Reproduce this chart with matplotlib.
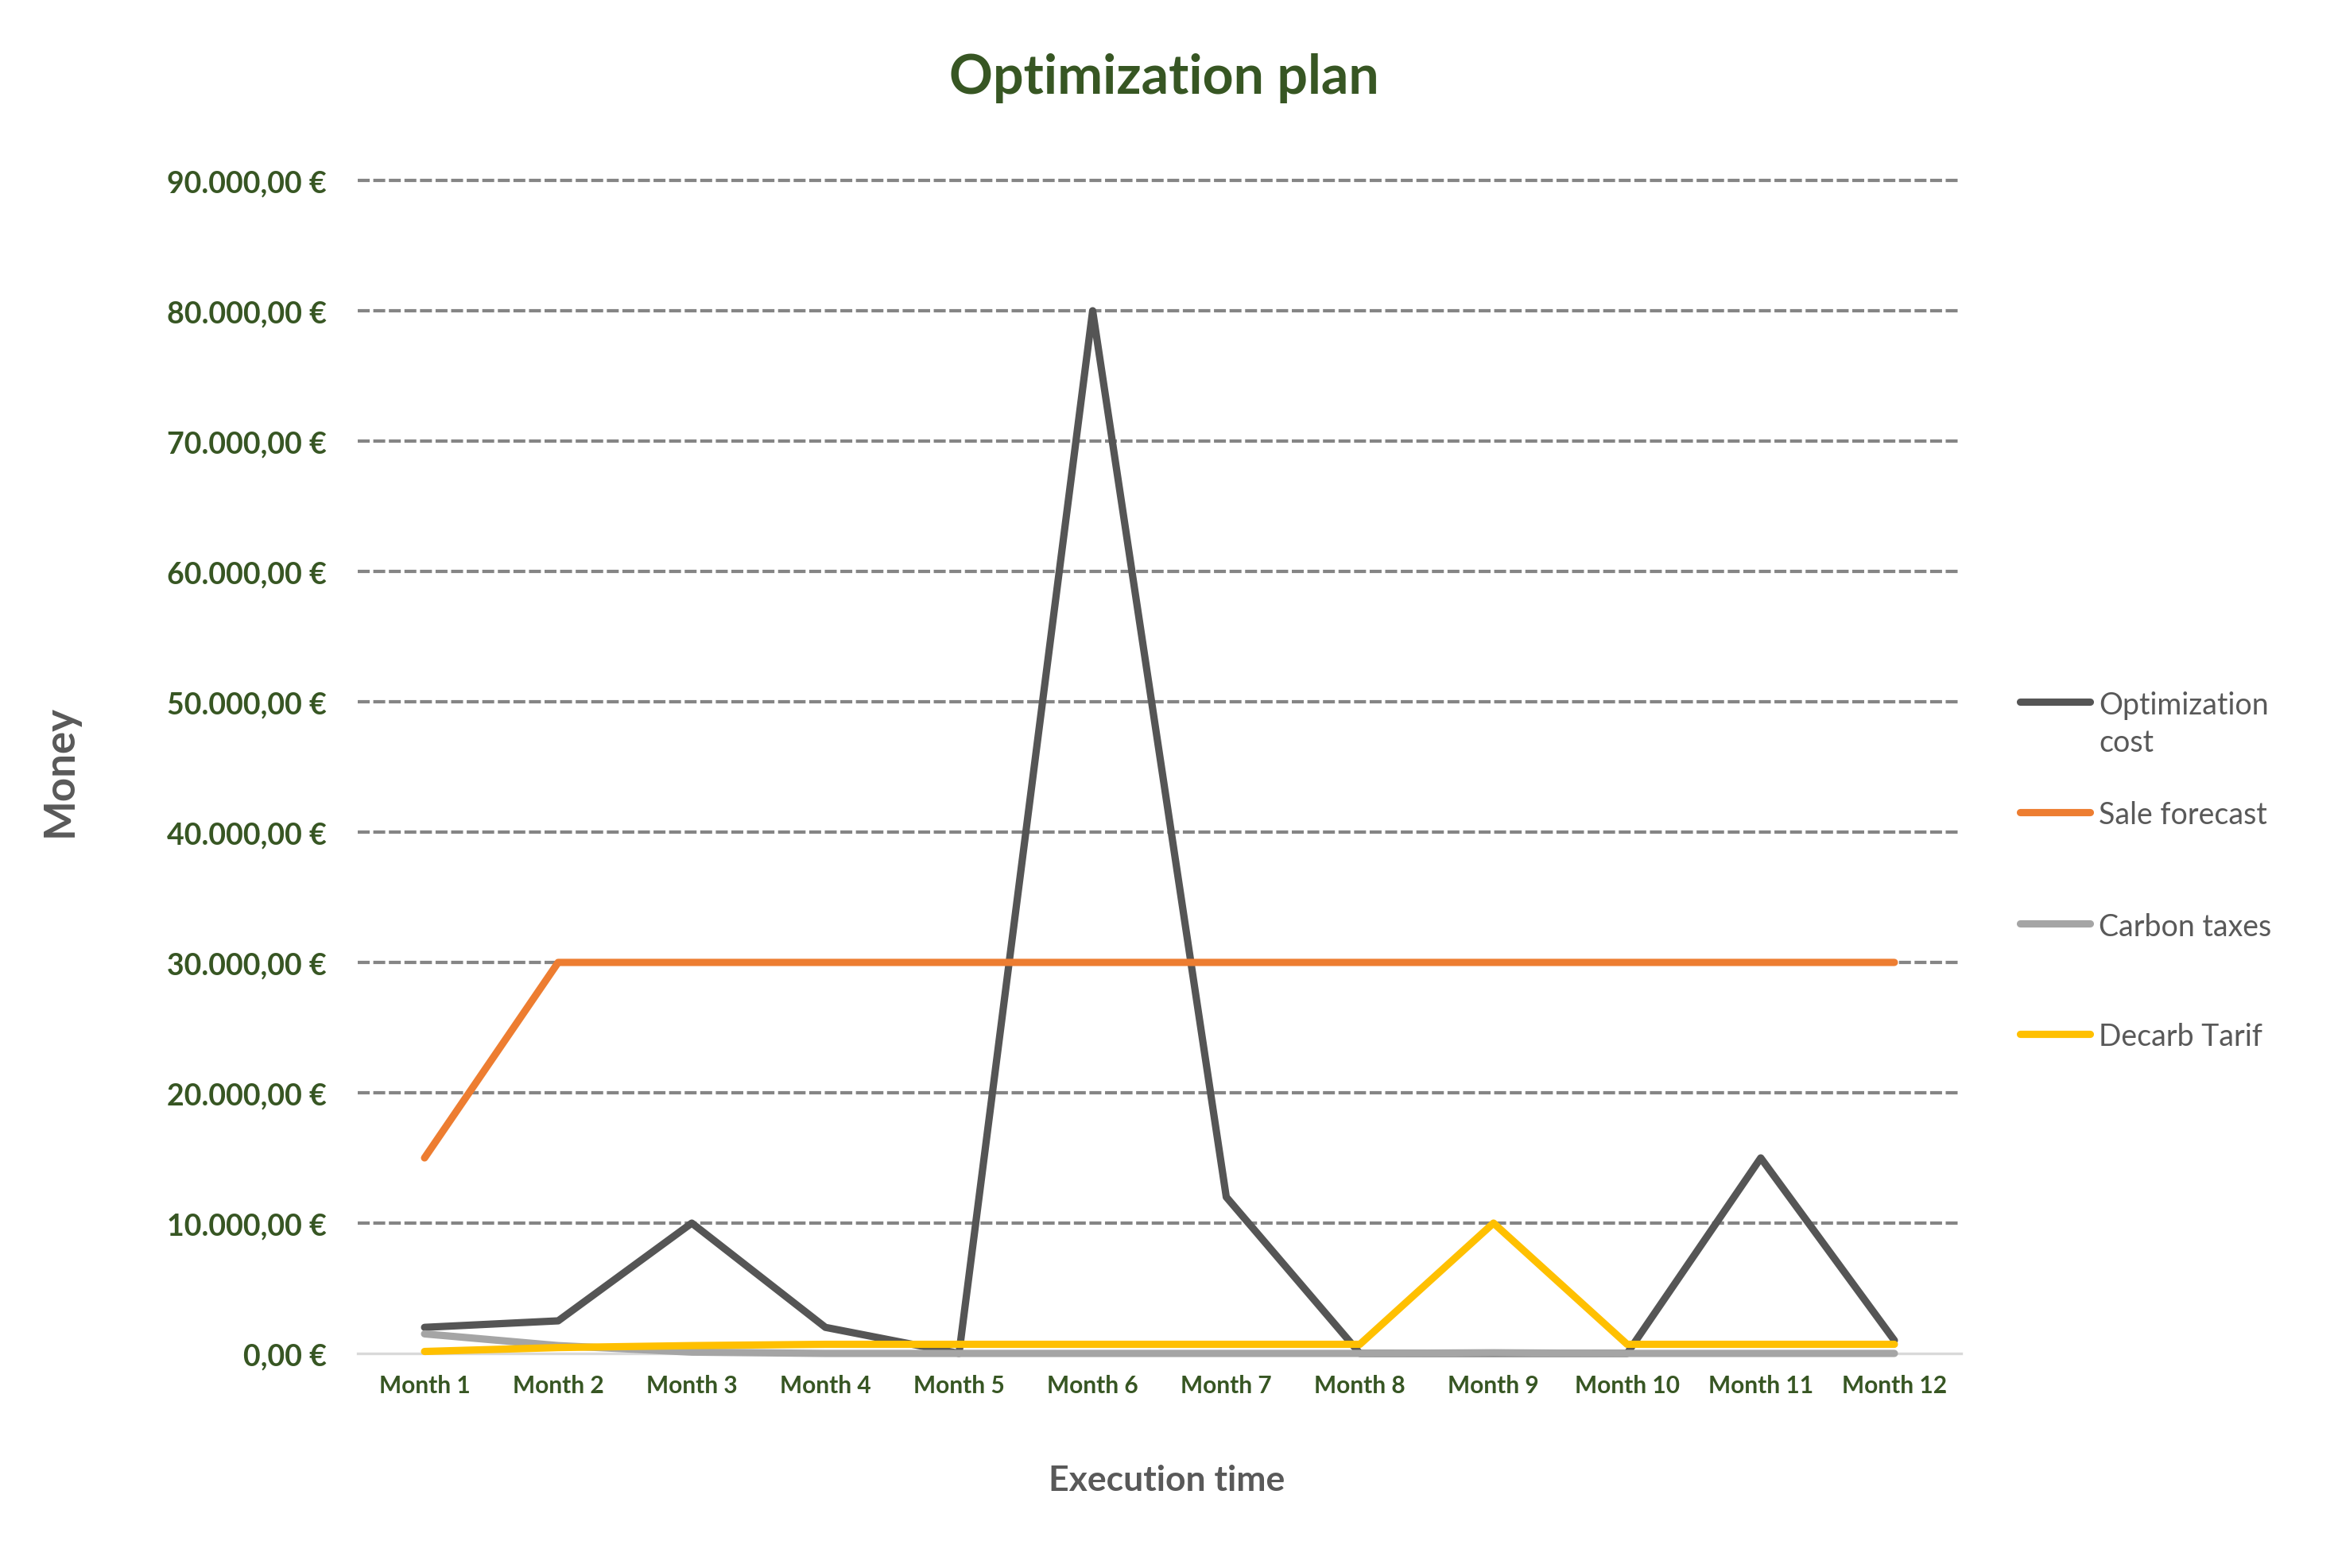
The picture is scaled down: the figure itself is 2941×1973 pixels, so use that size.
import matplotlib
matplotlib.use("Agg")
import matplotlib.pyplot as plt
from matplotlib.lines import Line2D

# ---- data ----
months = ["Month 1", "Month 2", "Month 3", "Month 4", "Month 5", "Month 6",
          "Month 7", "Month 8", "Month 9", "Month 10", "Month 11", "Month 12"]
optimization_cost = [2000, 2500, 10000, 2000, 0, 80000, 12000, 0, 0, 0, 15000, 1000]
sale_forecast = [15000, 30000, 30000, 30000, 30000, 30000, 30000, 30000, 30000, 30000, 30000, 30000]
carbon_taxes = [1500, 600, 100, 0, 0, 0, 0, 0, 50, 0, 0, 0]
decarb_tarif = [150, 450, 600, 700, 700, 700, 700, 700, 10000, 700, 700, 700]

series_names = ["Optimization\ncost", "Sale forecast", "Carbon taxes", "Decarb Tarif"]
series_colors = ["#555555", "#ED7D31", "#A5A5A5", "#FFC000"]
y_ticks = [0, 10000, 20000, 30000, 40000, 50000, 60000, 70000, 80000, 90000]
y_tick_labels = ["0,00 €", "10.000,00 €", "20.000,00 €", "30.000,00 €", "40.000,00 €",
                 "50.000,00 €", "60.000,00 €", "70.000,00 €", "80.000,00 €", "90.000,00 €"]

title = "Optimization plan"
x_label = "Execution time"
y_label = "Money"

GREEN = "#375623"
GRAYTXT = "#595959"
FONT = "Lato"

W, H = 2941, 1974
fig = plt.figure(figsize=(W / 100, H / 100), dpi=100)
ax = fig.add_axes([450 / W, 1 - 1704 / H, (2467 - 450) / W, (1704 - 228) / H])

x = list(range(len(months)))
lw = 6.6
for vals, col in zip([optimization_cost, sale_forecast, carbon_taxes, decarb_tarif], series_colors):
    ax.plot(x, vals, color=col, lw=lw, solid_capstyle="round", solid_joinstyle="round",
            zorder=3, clip_on=False)

ax.set_xlim(-0.5, len(months) - 0.5)
ax.set_ylim(0, 90000)

ax.set_yticks(y_ticks)
ax.set_yticklabels(y_tick_labels, fontfamily=FONT, fontweight="bold", fontsize=27, color=GREEN)
ax.set_xticks(x)
ax.set_xticklabels(months, fontfamily=FONT, fontweight="bold", fontsize=21.5, color=GREEN)
ax.tick_params(axis="y", length=0, pad=28)
ax.tick_params(axis="x", length=0, pad=19)

# gridlines (dashed) except zero
for t in y_ticks[1:]:
    ax.axhline(t, color="#858585", lw=3.0, dashes=(3.6, 1.1), zorder=1, clip_on=False)
ax.axhline(0, color="#D9D9D9", lw=2.4, zorder=2, clip_on=False)

for s in ax.spines.values():
    s.set_visible(False)

fig.text(1464 / W, 1 - 118 / H, title, ha="center", va="baseline", fontfamily=FONT,
         fontweight="bold", fontsize=49, color=GREEN)
fig.text(1468 / W, 1 - 1876 / H, x_label, ha="center", va="baseline", fontfamily=FONT,
         fontweight="bold", fontsize=32, color=GRAYTXT)
fig.text(75 / W, 1 - 970 / H, y_label, ha="center", va="center", rotation=90,
         fontfamily=FONT, fontweight="bold", fontsize=38, color=GRAYTXT)

# legend (manual, Excel-like layout)
leg_y = [884, 1023, 1163, 1302]
line_gap = 48
for name, col, yy in zip(series_names, series_colors, leg_y):
    fy = 1 - yy / H
    fig.add_artist(Line2D([2541 / W, 2629 / W], [fy, fy], color=col, lw=lw,
                          solid_capstyle="round", transform=fig.transFigure))
    for i, part in enumerate(name.split("\n")):
        fig.text(2640 / W, 1 - (yy + i * line_gap) / H, part, ha="left", va="center_baseline",
                 fontfamily=FONT, fontsize=27, color=GRAYTXT)

fig.savefig("out.png", dpi=100, facecolor="white")
